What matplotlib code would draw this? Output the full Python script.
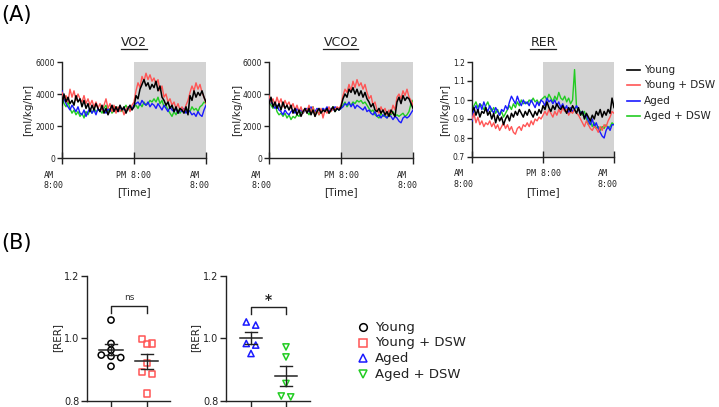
import numpy as np
import matplotlib
matplotlib.use('Agg')
import matplotlib.pyplot as plt
from matplotlib.lines import Line2D

# ---------------- data ----------------
hours = np.arange(73) / 3.0  # 0 .. 24 h, every 20 min (AM 8:00 -> AM 8:00)

vo2_young = [3300,
             4000, 3500, 3800, 3400, 3600, 3300, 3900, 3500, 3700,
             3200, 3600, 3100, 3400, 2900, 3300, 3000, 3400, 3100,
             2900, 3300, 2800, 3100, 2700, 3000, 3300, 2900, 3200,
             2900, 3300, 3000, 3200, 2800, 3100, 3300, 3000, 3200,
             3900, 3700, 4300, 4600, 4900, 4500, 4700, 4300, 4600,
             4400, 4800, 4200, 4500, 3800, 3600, 3300, 3500, 3100,
             3300, 2900, 3200, 2800, 3100, 3000, 2800, 3200, 2700,
             3900, 3600, 4200, 3800, 4100, 3900, 4200, 3800, 3500]
vo2_young_dsw = [4100,
                 3700, 3900, 3500, 4300, 3800, 4200, 3600, 4000, 3700,
                 3500, 3900, 3400, 3700, 3300, 3600, 3200, 3500, 3100,
                 3400, 3000, 3300, 3700, 3100, 3400, 2900, 3300, 2800,
                 3200, 2900, 3100, 2700, 3000, 3200, 2900, 3300, 3500,
                 4200, 4700, 4400, 5100, 4800, 5300, 4900, 5200, 4800,
                 5000, 4600, 4900, 4200, 4500, 3800, 4000, 3500, 3700,
                 3300, 3500, 3100, 3400, 3000, 3200, 2900, 3300, 3600,
                 4100, 4500, 4200, 4700, 4300, 4600, 4100, 3800, 3400]
vo2_aged = [4200,
            3700, 3400, 3200, 3000, 3300, 3100, 2900, 3200, 2800,
            2700, 3000, 2600, 2900, 3100, 2800, 3000, 2700, 3100,
            2900, 3200, 3000, 2800, 3100, 2900, 3200, 3000, 3100,
            2900, 3200, 3000, 3100, 2900, 3200, 3000, 3100, 3300,
            3400, 3500, 3300, 3600, 3400, 3300, 3500, 3200, 3400,
            3300, 3100, 3400, 3200, 3000, 3300, 3100, 2900, 3200,
            3000, 2900, 3100, 2800, 3000, 2900, 3100, 2800, 3000,
            2900, 2700, 2800, 2600, 2900, 2700, 2600, 3000, 3300]
vo2_aged_dsw = [3800,
                3400, 3200, 3500, 3100, 2800, 3000, 2700, 2900, 2600,
                2800, 2500, 2900, 2700, 3000, 2800, 3100, 2900, 3000,
                3000, 2800, 3100, 3300, 2900, 3100, 2800, 3000, 3200,
                3000, 3200, 2900, 3100, 3300, 3000, 3200, 3100, 3200,
                3300, 3100, 3400, 3200, 3500, 3300, 3400, 3600, 3500,
                3700, 3500, 3800, 3400, 3600, 3200, 3300, 3000, 2800,
                2600, 2900, 2700, 3000, 2800, 3000, 2900, 3100, 3000,
                2900, 3200, 3000, 3100, 2900, 3200, 3300, 3500, 3400]

vco2_young = [3400,
              3800, 3200, 3500, 3100, 3400, 3000, 3500, 3100, 3300,
              3000, 3300, 2800, 3100, 2700, 3000, 2600, 2900, 3100,
              2800, 3100, 2700, 3000, 2600, 2900, 3100, 2800, 3000,
              2900, 3100, 2800, 3000, 3200, 2900, 3100, 3000, 3200,
              3700, 4000, 3800, 4300, 4100, 4400, 4000, 4300, 3900,
              4200, 3800, 4100, 3700, 3500, 3200, 3400, 3000, 2900,
              3100, 2800, 3000, 2700, 2900, 2600, 3000, 2800, 2600,
              3500, 3800, 3400, 3900, 3600, 3800, 3700, 3400, 3100]
vco2_young_dsw = [3900,
                  3500, 3700, 3300, 3800, 3400, 3700, 3200, 3600, 3300,
                  3500, 3100, 3400, 3000, 3300, 2900, 3200, 2800, 3100,
                  2900, 3300, 2800, 3200, 2600, 3000, 2700, 3100, 2500,
                  3000, 2800, 3200, 2900, 3100, 3000, 3200, 3100, 3300,
                  3900, 4300, 4100, 4600, 4200, 4800, 4400, 4900, 4500,
                  4700, 4300, 4600, 4100, 3700, 3900, 3300, 3500, 3000,
                  2800, 3200, 2900, 3100, 2700, 3000, 2800, 3300, 3000,
                  3800, 4000, 3700, 4200, 3900, 4300, 3800, 3600, 3300]
vco2_aged = [3700,
             3500, 3300, 3100, 3300, 3000, 2900, 2700, 3000, 2800,
             2700, 2900, 3000, 2800, 3100, 2900, 3000, 2800, 3000,
             3100, 2900, 3200, 3000, 2900, 3100, 3000, 2900, 3100,
             3000, 3200, 2900, 3100, 3000, 3200, 3100, 3000, 3100,
             3200, 3400, 3300, 3500, 3200, 3400, 3100, 3300, 3200,
             3100, 3000, 3200, 2900, 3000, 2800, 2700, 2900, 2600,
             2700, 2500, 2700, 2600, 2500, 2700, 2600, 2400, 2600,
             2500, 2300, 2200, 2500, 2600, 2500, 2600, 2800, 3000]
vco2_aged_dsw = [3500,
                 3300, 3100, 3400, 2900, 2700, 2800, 2600, 2800, 2500,
                 2700, 2400, 2600, 2500, 2700, 2600, 2900, 2800, 3000,
                 2900, 2700, 3000, 3200, 2800, 3000, 2700, 2900, 3100,
                 2900, 3100, 2800, 3000, 3200, 2900, 3100, 3000, 3100,
                 3300, 3500, 3200, 3400, 3300, 3500, 3400, 3600, 3500,
                 3600, 3400, 3500, 3300, 3100, 2900, 3000, 2700, 2600,
                 2500, 2800, 2600, 2700, 2500, 2800, 2700, 2900, 2600,
                 2700, 2600, 2700, 2800, 2600, 2700, 2900, 3400, 3600]

rer_young = [0.94,
             0.96, 0.92, 0.95, 0.91, 0.94, 0.93, 0.96, 0.92, 0.94,
             0.90, 0.93, 0.88, 0.92, 0.89, 0.91, 0.87, 0.90, 0.92,
             0.89, 0.93, 0.91, 0.94, 0.92, 0.95, 0.93, 0.91, 0.94,
             0.92, 0.95, 0.93, 0.91, 0.94, 0.92, 0.95, 0.93, 0.97,
             0.95, 0.99, 0.96, 0.94, 0.97, 0.95, 0.98, 0.96, 0.95,
             0.97, 0.95, 0.93, 0.96, 0.94, 0.97, 0.95, 0.93, 0.96,
             0.92, 0.94, 0.90, 0.93, 0.91, 0.89, 0.92, 0.90, 0.94,
             0.92, 0.95, 0.91, 0.94, 0.92, 0.95, 0.93, 1.01, 0.96]
rer_young_dsw = [0.90,
                 0.93, 0.88, 0.91, 0.87, 0.89, 0.86, 0.88, 0.87, 0.89,
                 0.86, 0.88, 0.85, 0.87, 0.84, 0.86, 0.88, 0.85, 0.87,
                 0.84, 0.86, 0.83, 0.82, 0.85, 0.86, 0.84, 0.87, 0.86,
                 0.88, 0.86, 0.89, 0.87, 0.90, 0.89, 0.91, 0.90, 0.92,
                 0.94, 0.92, 0.95, 0.93, 0.91, 0.94, 0.92, 0.95, 0.93,
                 0.96, 0.94, 0.95, 0.92, 0.94, 0.93, 0.95, 0.93, 0.92,
                 0.90, 0.88, 0.86, 0.89, 0.87, 0.85, 0.84, 0.86, 0.85,
                 0.83, 0.86, 0.84, 0.87, 0.86, 0.89, 0.91, 0.94, 0.93]
rer_aged = [0.89,
            0.95, 0.97, 0.94, 0.98, 0.95, 0.99, 0.96, 0.94, 0.97,
            0.95, 0.93, 0.96, 0.94, 0.92, 0.95, 0.94, 0.97, 0.95,
            0.99, 1.02, 1.00, 0.98, 1.02, 0.99, 0.97, 1.00, 0.98,
            0.99, 0.97, 1.00, 0.98, 0.96, 0.99, 0.97, 1.00, 0.99,
            0.97, 1.01, 0.99, 1.00, 0.98, 1.00, 0.97, 0.99, 0.96,
            0.98, 0.95, 0.97, 0.93, 0.96, 0.94, 0.95, 0.97, 0.95,
            0.93, 0.94, 0.91, 0.92, 0.89, 0.87, 0.90, 0.86, 0.88,
            0.85, 0.83, 0.81, 0.80, 0.84, 0.86, 0.84, 0.87, 0.87]
rer_aged_dsw = [0.95,
                0.97, 0.99, 0.96, 0.98, 0.97, 0.95, 0.97, 0.99, 0.96,
                0.94, 0.96, 0.93, 0.95, 0.92, 0.94, 0.91, 0.93, 0.95,
                0.97, 0.95, 0.98, 0.96, 0.99, 0.97, 1.00, 0.98, 0.99,
                0.98, 1.00, 0.99, 1.01, 0.99, 1.00, 0.98, 1.00, 1.01,
                1.02, 1.00, 1.03, 1.01, 0.99, 1.02, 1.00, 1.04, 1.01,
                1.00, 1.02, 0.99, 1.01, 0.98, 1.00, 1.16, 0.96, 0.95,
                0.94, 0.92, 0.94, 0.90, 0.87, 0.89, 0.86, 0.88, 0.85,
                0.86, 0.84, 0.86, 0.85, 0.87, 0.85, 0.86, 0.88, 0.87]

groups = ['Young', 'Young + DSW', 'Aged', 'Aged + DSW']
colors = ['#000000', '#ff5555', '#1a1aff', '#22cc22']

# Panel B: mean RER per animal
rer_b_young = [1.059, 0.984, 0.963, 0.947, 0.943, 0.939, 0.911]
rer_b_young_dsw = [0.998, 0.984, 0.982, 0.922, 0.893, 0.886, 0.824]
rer_b_aged = [1.053, 1.043, 0.984, 0.979, 0.952]
rer_b_aged_dsw = [0.973, 0.941, 0.856, 0.816, 0.813]

time_ticks = [0, 12, 24]
time_labels = ['AM\n8:00', 'PM 8:00', 'AM\n8:00']

# ---------------- helpers ----------------
W, H = 719, 407
fig = plt.figure(figsize=(W / 100, H / 100), dpi=100)
AX_C = '#222222'


def box(x0, y0, x1, y1):
    return [x0 / W, 1 - y1 / H, (x1 - x0) / W, (y1 - y0) / H]


def fx(x):
    return x / W


def fy(y):
    return 1 - y / H


def style(ax):
    for s in ['top', 'right']:
        ax.spines[s].set_visible(False)
    for s in ['left', 'bottom']:
        ax.spines[s].set_linewidth(1.0)
        ax.spines[s].set_color(AX_C)
    ax.tick_params(colors=AX_C, width=1.0, length=3.5, labelsize=5.5, pad=1.5)


def time_panel(ax, series, ylim, yticks, yticklabels):
    ax.axvspan(12, 24, color='#d3d3d3', lw=0, zorder=0)
    order = [3, 2, 1, 0]
    for i in order:
        ax.plot(hours, series[i], color=colors[i], lw=1.0 if i else 1.1, zorder=2 + (3 - i))
    ax.set_xlim(0, 24)
    ax.set_ylim(*ylim)
    ax.set_yticks(yticks)
    ax.set_yticklabels(yticklabels)
    style(ax)
    ax.set_xticks(time_ticks)
    ax.set_xticklabels(time_labels, fontfamily='DejaVu Sans Mono', fontsize=6)
    ax.tick_params(axis='x', direction='inout', length=8, pad=5)
    labs = ax.get_xticklabels()
    labs[0].set_ha('right'); labs[0].set_multialignment('left')
    labs[2].set_ha('right'); labs[2].set_multialignment('left')
    labs[1].set_ha('center')
    # shift AM labels slightly so their right edge sits near the tick
    import matplotlib.transforms as mtrans
    for lab, dx in [(labs[0], 2), (labs[2], 4)]:
        lab.set_transform(lab.get_transform() + mtrans.ScaledTranslation(dx / 100, 0, fig.dpi_scale_trans))


# ---------------- Panel A ----------------
fig.text(fx(1), fy(15), '(A)', fontsize=15, ha='left', va='center')
fig.text(fx(1), fy(243), '(B)', fontsize=15, ha='left', va='center')

panels = [
    (box(62, 62, 206, 158), [vo2_young, vo2_young_dsw, vo2_aged, vo2_aged_dsw],
     (0, 6000), [0, 2000, 4000, 6000], ['0', '2000', '4000', '6000'], 'VO2', 28),
    (box(269, 62, 413, 158), [vco2_young, vco2_young_dsw, vco2_aged, vco2_aged_dsw],
     (0, 6000), [0, 2000, 4000, 6000], ['0', '2000', '4000', '6000'], 'VCO2', 237),
    (box(472, 62, 614, 157), [rer_young, rer_young_dsw, rer_aged, rer_aged_dsw],
     (0.7, 1.2), [0.7, 0.8, 0.9, 1.0, 1.1, 1.2], ['0.7', '0.8', '0.9', '1.0', '1.1', '1.2'], 'RER', 445),
]
titles = []
for rect, series, ylim, yt, ytl, title, ylx in panels:
    ax = fig.add_axes(rect)
    time_panel(ax, series, ylim, yt, ytl)
    cx = (rect[0] + rect[2] / 2)
    t = fig.text(cx, fy(43), title, fontsize=9, ha='center', va='center', color='#222222')
    titles.append(t)
    fig.text(fx(ylx), (rect[1] + rect[3] / 2), '[ml/kg/hr]', rotation=90, fontsize=7.5,
             ha='center', va='center', color='#222222')
    fig.text(cx, fy(192), '[Time]', fontsize=7.5, ha='center', va='center', color='#222222')

# Legend A (manual)
for i, g in enumerate(groups):
    y = fy(70 + i * 15.4)
    fig.add_artist(Line2D([fx(627), fx(640)], [y, y], color=colors[i], lw=1.2,
                          transform=fig.transFigure))
    fig.text(fx(644), y, g, fontsize=7.5, ha='left', va='center', color='#222222')


# ---------------- Panel B ----------------
def swarm(vals, step, tol=0.015):
    vals = np.asarray(vals)
    order = np.argsort(vals)[::-1]
    offs = np.zeros(len(vals))
    rows, cur = [], [order[0]]
    for i in order[1:]:
        if vals[cur[0]] - vals[i] < tol:
            cur.append(i)
        else:
            rows.append(cur)
            cur = [i]
    rows.append(cur)
    for r in rows:
        n = len(r)
        for k, i in enumerate(r):
            offs[i] = (k - (n - 1) / 2) * step
    return offs


def dot_panel(ax, data, markers, cols, xlim, sig, bracket_y):
    for xi, (vals, m, c) in enumerate(zip(data, markers, cols)):
        vals = np.asarray(vals)
        xs = xi + swarm(vals, 0.27)
        ax.scatter(xs, vals, marker=m, s=20, facecolors='none', edgecolors=c, linewidths=1.1, zorder=3)
        mean = vals.mean()
        sem = vals.std(ddof=1) / np.sqrt(len(vals))
        ax.plot([xi - 0.32, xi + 0.32], [mean, mean], color='#222222', lw=1.1, zorder=4)
        ax.plot([xi, xi], [mean - sem, mean + sem], color='#222222', lw=1.0, zorder=4)
        for yy in (mean - sem, mean + sem):
            ax.plot([xi - 0.16, xi + 0.16], [yy, yy], color='#222222', lw=1.0, zorder=4)
    ax.set_xlim(*xlim)
    ax.set_ylim(0.8, 1.2)
    ax.set_yticks([0.8, 1.0, 1.2])
    ax.set_yticklabels(['0.8', '1.0', '1.2'])
    ax.set_xticks([0, 1])
    ax.set_xticklabels(['', ''])
    style(ax)
    ax.tick_params(labelsize=7, length=4)
    top, leg = bracket_y
    ax.plot([0, 0, 1, 1], [leg, top, top, leg], color='#222222', lw=1.0)
    if sig == 'ns':
        ax.text(0.5, top + 0.012, 'ns', ha='center', va='bottom', fontsize=6.5, color='#333333')
    else:
        ax.text(0.5, top + 0.002, '*', ha='center', va='bottom', fontsize=10, fontweight='bold', color='#222222')


axb1 = fig.add_axes(box(87, 276, 170, 401))
dot_panel(axb1, [rer_b_young, rer_b_young_dsw], ['o', 's'], [colors[0], colors[1]],
          (-0.667, 1.64), 'ns', (1.105, 1.082))
axb2 = fig.add_axes(box(226, 276, 310, 401))
dot_panel(axb2, [rer_b_aged, rer_b_aged_dsw], ['^', 'v'], [colors[2], colors[3]],
          (-0.714, 1.686), '*', (1.10, 1.077))
for ylx in (57, 195):
    fig.text(fx(ylx), fy(337), '[RER]', rotation=90, fontsize=7.5, ha='center', va='center', color='#222222')

# Legend B (manual)
bmarkers = ['o', 's', '^', 'v']
for i, g in enumerate(groups):
    y = fy(327 + i * 15.7)
    fig.add_artist(Line2D([fx(363)], [y], marker=bmarkers[i], markersize=5.5, markerfacecolor='none',
                          markeredgecolor=colors[i], markeredgewidth=1.1, lw=0, transform=fig.transFigure))
    fig.text(fx(375), y, g, fontsize=9.5, ha='left', va='center', color='#222222')

# underline titles
fig.canvas.draw()
for t in titles:
    bb = t.get_window_extent()
    fig.add_artist(Line2D([bb.x0 / W, bb.x1 / W], [fy(49), fy(49)], color='#222222', lw=0.9,
                          transform=fig.transFigure))

fig.savefig('out.png', dpi=100)
